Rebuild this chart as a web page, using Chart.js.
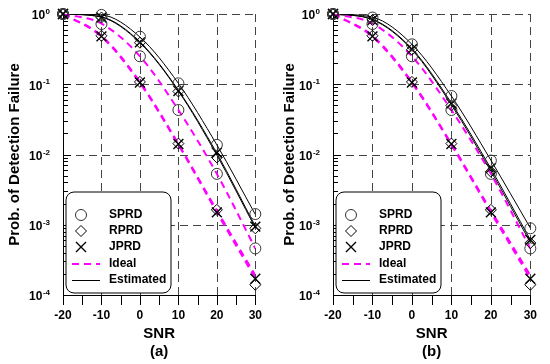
<!DOCTYPE html>
<html><head><meta charset="utf-8">
<script src="https://cdn.jsdelivr.net/npm/chart.js@4/dist/chart.umd.min.js"></script>
<style>
html,body{margin:0;padding:0;background:#fff;}
#wrap{position:relative;width:550px;height:364px;overflow:hidden;}
.p{position:absolute;top:0;width:275px;height:364px;}
canvas{display:block;}
</style></head><body>
<div id="wrap">
<div class="p" style="left:0"><canvas id="ca" width="275" height="364"></canvas></div>
<div class="p" style="left:275px"><canvas id="cb" width="275" height="364"></canvas></div>
</div>
<script>
// ---- data ----
const snr = [-20, -10, 0, 10, 20, 30];
const xTicks = [-20, -10, 0, 10, 20, 30];
const xMinorTicks = [-20, -15, -10, -5, 0, 5, 10, 15, 20, 25, 30];
const yDecades = [1e-4, 1e-3, 1e-2, 1e-1, 1];
const yTickBase = '10';
const yTickExp = ['-4', '-3', '-2', '-1', '0'];
const yTitle = 'Prob. of Detection Failure';
const xTitle = 'SNR';
const panelLabels = ['(a)', '(b)'];
const legendNames = ['SPRD', 'RPRD', 'JPRD', 'Ideal', 'Estimated'];

// ideal curves (same in both panels)
const idealSprd = [1, 0.73, 0.25, 0.043, 0.0053, 0.00046];
const idealRprd = [1, 0.49, 0.108, 0.0142, 0.0016, 0.00019];
const idealJprd = [1, 0.475, 0.104, 0.0137, 0.0015, 0.000172];
// estimated curves
const aEstSprd = [1, 0.97, 0.47, 0.103, 0.0137, 0.0014];
const aEstRprd = [1, 0.9, 0.39, 0.08, 0.0098, 0.0009];
const aEstJprd = [1, 0.91, 0.4, 0.082, 0.0104, 0.00095];
const bEstSprd = [1, 0.9, 0.37, 0.068, 0.0083, 0.0009];
const bEstRprd = [1, 0.83, 0.31, 0.051, 0.0058, 0.00056];
const bEstJprd = [1, 0.84, 0.32, 0.054, 0.0063, 0.00061];
// simulated markers
const sprdIdealMk = [1, 0.72, 0.25, 0.043, 0.0053, 0.00046];
const rprdIdealMk = [1, 0.49, 0.108, 0.0143, 0.00163, 0.00014];
const jprdIdealMk = [1, 0.48, 0.106, 0.0141, 0.0015, 0.00017];
const aSprdEstMk = [1, 0.97, 0.475, 0.103, 0.0137, 0.00142];
const aRprdEstMk = [1, 0.89, 0.39, 0.079, 0.0091, 0.00089];
const aJprdEstMk = [1, 0.89, 0.395, 0.08, 0.0106, 0.00094];
const bSprdEstMk = [1, 0.89, 0.37, 0.068, 0.0082, 0.00089];
const bRprdEstMk = [1, 0.82, 0.31, 0.05, 0.0057, 0.00055];
const bJprdEstMk = [1, 0.82, 0.315, 0.053, 0.0064, 0.00061];

const FONT = '"Liberation Sans", Arial, Helvetica, sans-serif';
const MAG = '#ff00ff';
const MK = '#333';

function pts(vals) { return snr.map((x, i) => ({ x: x, y: vals[i] })); }

function lineDs(vals, ideal) {
  return {
    data: pts(vals), showLine: true,
    borderColor: ideal ? MAG : '#000', borderWidth: ideal ? 2 : 1,
    borderDash: ideal ? [7, 5] : [], pointRadius: 0, pointHoverRadius: 0,
    cubicInterpolationMode: 'monotone', fill: false, order: 2
  };
}
function markDs(vals, style) {
  const isX = style === 'crossRot';
  const isD = style === 'rectRot';
  return {
    data: pts(vals), showLine: false, pointStyle: style,
    pointRadius: isX ? 7 : (isD ? 5.5 : 5.5), pointHoverRadius: 0,
    pointBorderColor: isX || isD ? '#000' : MK, pointBackgroundColor: 'rgba(0,0,0,0)',
    pointBorderWidth: isX ? 1.4 : 1, clip: false, order: 1
  };
}

const decor = {
  id: 'decor',
  beforeDatasetsDraw(chart) {
    const { ctx, chartArea: a, scales: { x, y } } = chart;
    ctx.save();
    ctx.lineWidth = 1;
    ctx.strokeStyle = '#444';
    ctx.setLineDash([8, 5]);
    xTicks.forEach(v => {
      if (v === xTicks[0]) return;
      const px = Math.round(x.getPixelForValue(v)) + 0.5;
      ctx.beginPath(); ctx.moveTo(px, a.top); ctx.lineTo(px, a.bottom); ctx.stroke();
    });
    yDecades.forEach(v => {
      if (v === yDecades[0]) return;
      const py = Math.round(y.getPixelForValue(v)) + 0.5;
      ctx.beginPath(); ctx.moveTo(a.left, py); ctx.lineTo(a.right, py); ctx.stroke();
    });
    ctx.setLineDash([]);
    ctx.strokeStyle = '#000';
    xMinorTicks.forEach(v => {
      const px = Math.round(x.getPixelForValue(v)) + 0.5;
      ctx.beginPath(); ctx.moveTo(px, a.bottom); ctx.lineTo(px, a.bottom + 10); ctx.stroke();
    });
    for (let d = 0; d < yDecades.length - 1; d++) {
      for (let k = 2; k <= 9; k++) {
        const py = Math.round(y.getPixelForValue(yDecades[d] * k)) + 0.5;
        ctx.beginPath(); ctx.moveTo(a.left, py); ctx.lineTo(a.left + 5, py); ctx.stroke();
      }
    }
    yDecades.forEach(v => {
      const py = Math.round(y.getPixelForValue(v)) + 0.5;
      ctx.beginPath(); ctx.moveTo(a.left, py); ctx.lineTo(a.left + 8, py); ctx.stroke();
    });
    // y tick labels with superscript exponent
    ctx.fillStyle = '#000';
    ctx.textBaseline = 'middle';
    yDecades.forEach((v, i) => {
      const py = y.getPixelForValue(v);
      const right = a.left - 13;
      ctx.font = 'bold 8px ' + FONT;
      const ew = ctx.measureText(yTickExp[i]).width;
      ctx.textAlign = 'left';
      ctx.fillText(yTickExp[i], right - ew, py - 2);
      ctx.font = 'bold 12px ' + FONT;
      ctx.textAlign = 'right';
      ctx.fillText(yTickBase, right - ew - 0.5, py + 2);
    });
    ctx.restore();
  },
  afterDraw(chart) {
    const { ctx, chartArea: a } = chart;
    const L = a.left + 3, T = 192, W = 105, H = 101, R = 8;
    ctx.save();
    ctx.beginPath();
    ctx.moveTo(L + R, T); ctx.lineTo(L + W - R, T); ctx.arcTo(L + W, T, L + W, T + R, R);
    ctx.lineTo(L + W, T + H - R); ctx.arcTo(L + W, T + H, L + W - R, T + H, R);
    ctx.lineTo(L + R, T + H); ctx.arcTo(L, T + H, L, T + H - R, R);
    ctx.lineTo(L, T + R); ctx.arcTo(L, T, L + R, T, R); ctx.closePath();
    ctx.fillStyle = '#fff'; ctx.fill();
    ctx.strokeStyle = '#000'; ctx.lineWidth = 1; ctx.stroke();
    const rows = [23, 39, 55, 72, 88];
    const cx = L + 15;
    ctx.lineWidth = 1;
    // circle
    let yy = T + rows[0];
    ctx.strokeStyle = MK; ctx.beginPath(); ctx.arc(cx, yy, 5.5, 0, Math.PI * 2); ctx.stroke();
    // diamond
    yy = T + rows[1];
    ctx.strokeStyle = '#000';
    ctx.beginPath(); ctx.moveTo(cx, yy - 5.5); ctx.lineTo(cx + 5.5, yy); ctx.lineTo(cx, yy + 5.5); ctx.lineTo(cx - 5.5, yy); ctx.closePath(); ctx.stroke();
    // X
    yy = T + rows[2];
    ctx.lineWidth = 1.4;
    ctx.beginPath(); ctx.moveTo(cx - 5, yy - 5); ctx.lineTo(cx + 5, yy + 5); ctx.moveTo(cx + 5, yy - 5); ctx.lineTo(cx - 5, yy + 5); ctx.stroke();
    // ideal line
    yy = T + rows[3];
    ctx.strokeStyle = MAG; ctx.lineWidth = 2; ctx.setLineDash([7, 5]);
    ctx.beginPath(); ctx.moveTo(L + 6, yy); ctx.lineTo(L + 34, yy); ctx.stroke();
    ctx.setLineDash([]);
    yy = T + rows[4];
    ctx.strokeStyle = '#000'; ctx.lineWidth = 1;
    ctx.beginPath(); ctx.moveTo(L + 6, yy + 0.5); ctx.lineTo(L + 34, yy + 0.5); ctx.stroke();
    ctx.fillStyle = '#000'; ctx.font = 'bold 12px ' + FONT;
    ctx.textAlign = 'left'; ctx.textBaseline = 'middle';
    legendNames.forEach((n, i) => ctx.fillText(n, L + 43, T + rows[i]));
    ctx.restore();
  }
};

function makePanel(id, label, est, estMk, yAxisW, padRight) {
  const datasets = [
    lineDs(idealSprd, true), lineDs(idealRprd, true), lineDs(idealJprd, true),
    lineDs(est[0], false), lineDs(est[1], false), lineDs(est[2], false),
    markDs(sprdIdealMk, 'circle'), markDs(estMk[0], 'circle'),
    markDs(rprdIdealMk, 'rectRot'), markDs(estMk[1], 'rectRot'),
    markDs(jprdIdealMk, 'crossRot'), markDs(estMk[2], 'crossRot')
  ];
  new Chart(document.getElementById(id), {
    type: 'scatter',
    data: { datasets },
    options: {
      responsive: false, animation: false, devicePixelRatio: 1, events: [],
      layout: { padding: { left: 0, right: padRight, top: 14, bottom: 0 } },
      plugins: { legend: { display: false }, tooltip: { enabled: false } },
      scales: {
        x: {
          type: 'linear', min: -20, max: 30,
          afterBuildTicks: s => { s.ticks = xTicks.map(v => ({ value: v })); },
          afterFit: s => { s.height = 69; },
          ticks: { font: { family: FONT, size: 12, weight: 'bold' }, color: '#000', padding: 13, maxRotation: 0, autoSkip: false, callback: v => String(v) },
          grid: { display: false, drawTicks: false },
          border: { display: true, color: '#000', width: 1 },
          title: { display: true, text: [xTitle, label], font: { family: FONT, size: 15, weight: 'bold', lineHeight: 1.2 }, color: '#000', padding: { top: 0, bottom: 3 } }
        },
        y: {
          type: 'logarithmic', min: 1e-4, max: 1,
          afterBuildTicks: s => { s.ticks = yDecades.map(v => ({ value: v })); },
          afterFit: s => { s.width = yAxisW; },
          ticks: { display: false },
          grid: { display: false, drawTicks: false },
          border: { display: true, color: '#000', width: 1 },
          title: { display: true, text: yTitle, font: { family: FONT, size: 15, weight: 'bold' }, color: '#000', padding: { top: 6, bottom: 0 } }
        }
      }
    },
    plugins: [decor]
  });
}

makePanel('ca', panelLabels[0], [aEstSprd, aEstRprd, aEstJprd], [aSprdEstMk, aRprdEstMk, aJprdEstMk], 63, 10);
makePanel('cb', panelLabels[1], [bEstSprd, bEstRprd, bEstJprd], [bSprdEstMk, bRprdEstMk, bJprdEstMk], 58, 15);
</script>
</body></html>
